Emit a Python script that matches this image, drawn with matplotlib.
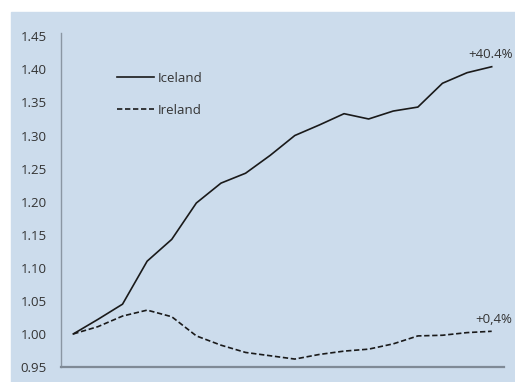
import numpy as np
import matplotlib.pyplot as plt
from matplotlib.patches import Rectangle

# index values, first year = 1.00
iceland = [1.000, 1.022, 1.045, 1.110, 1.143, 1.198, 1.228, 1.243, 1.270,
           1.300, 1.316, 1.333, 1.325, 1.337, 1.343, 1.379, 1.395, 1.404]
ireland = [1.000, 1.011, 1.027, 1.036, 1.026, 0.997, 0.983, 0.972, 0.967,
           0.962, 0.969, 0.974, 0.977, 0.985, 0.997, 0.998, 1.002, 1.004]
series_names = ['Iceland', 'Ireland']
end_labels = ['+40.4%', '+0,4%']
yticks = [0.95, 1.00, 1.05, 1.10, 1.15, 1.20, 1.25, 1.30, 1.35, 1.40, 1.45]

bg = '#ccdcec'
txt = '#333333'
plt.rcParams['font.family'] = ['Open Sans', 'DejaVu Sans']

fig = plt.figure(figsize=(5.15, 3.82), dpi=100)
fig.patches.append(Rectangle((11/515, 0), 1 - 11/515, 1 - 12/382,
                             transform=fig.transFigure, color=bg, zorder=-5))

ax = fig.add_axes([61/515, 15/382, 443/515, 334/382])
ax.set_facecolor(bg)
x = np.arange(len(iceland))
ax.plot(x, iceland, color='#1a1a1a', lw=1.2, label=series_names[0])
ax.plot(x, ireland, color='#1a1a1a', lw=1.2, linestyle=(0, (3.2, 1.6)),
        label=series_names[1])

ax.set_xlim(-0.5, len(x) - 0.5)
ax.set_ylim(0.95, 1.455)
ax.set_yticks(yticks)
ax.set_yticklabels(['%.2f' % v for v in yticks])
ax.set_xticks([])
ax.tick_params(axis='y', length=0, pad=10, labelsize=9.5, labelcolor=txt)

for s in ['top', 'right']:
    ax.spines[s].set_visible(False)
ax.spines['left'].set_color('#8a96a3')
ax.spines['left'].set_linewidth(1.0)
ax.spines['bottom'].set_color('#7f8a96')
ax.spines['bottom'].set_linewidth(1.6)

ax.annotate(end_labels[0], (x[-1], iceland[-1]), xytext=(15, 4),
            textcoords='offset points', ha='right', va='bottom',
            fontsize=9.5, color=txt)
ax.annotate(end_labels[1], (x[-1], ireland[-1]), xytext=(15, 4),
            textcoords='offset points', ha='right', va='bottom',
            fontsize=9.5, color=txt)

leg = ax.legend(loc='upper left', bbox_to_anchor=(0.1, 0.92), frameon=False,
                fontsize=9.5, handlelength=2.8, handletextpad=0.3,
                labelspacing=1.45)
for t in leg.get_texts():
    t.set_color(txt)

fig.savefig('out.png', dpi=100, facecolor='white')
